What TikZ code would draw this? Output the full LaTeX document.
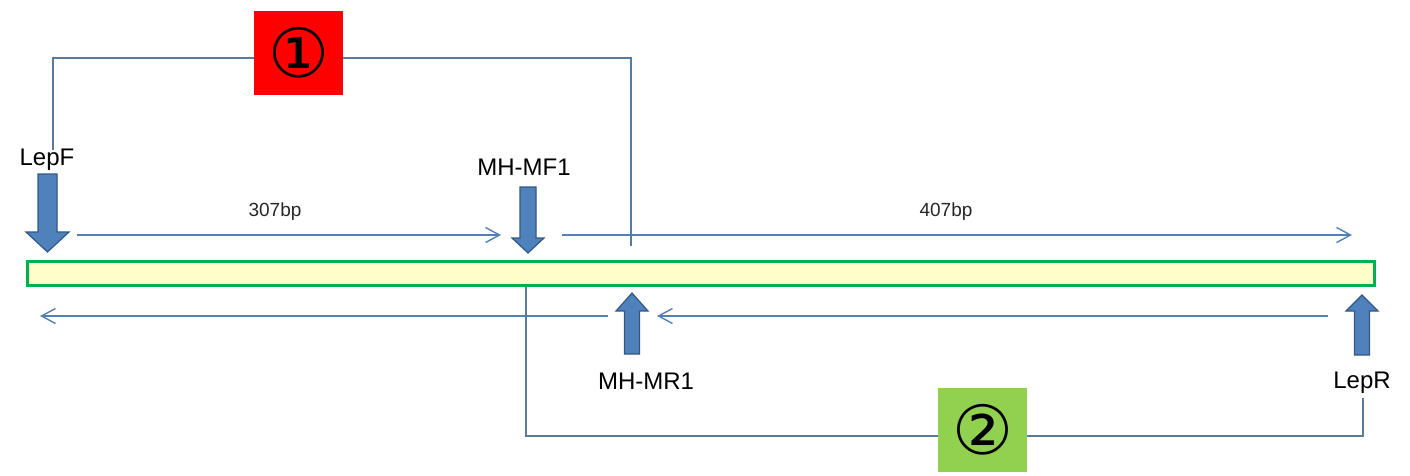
\documentclass[tikz,border=0pt]{standalone}
\usepackage{fontspec}
\setmainfont{Liberation Sans}
\newfontfamily\circfont{DejaVu Sans}
\usetikzlibrary{arrows.meta,positioning}
\definecolor{barline}{RGB}{0,176,80}
\definecolor{barfill}{RGB}{255,255,204}
\definecolor{primerfill}{RGB}{79,129,189}
\definecolor{primerdraw}{RGB}{52,88,130}
\definecolor{ampline}{RGB}{84,128,180}
\definecolor{brkline}{RGB}{90,122,155}
\definecolor{boxone}{RGB}{255,0,0}
\definecolor{boxtwo}{RGB}{146,208,80}
\tikzset{%
   lbl/.style={anchor=base, inner sep=0pt, font=\fontsize{24}{28}\selectfont},
   bp/.style={anchor=base, inner sep=0pt, font=\fontsize{19}{22}\selectfont, text=black!85},
   amp/.style={draw=ampline, line width=1.4pt, -{Straight Barb[length=14pt,width=15pt,line width=1.4pt]}},
   brk/.style={draw=brkline, line width=1.6pt},
   numbox/.style={minimum width=89pt, minimum height=84pt, inner sep=0pt, font=\circfont\fontsize{68}{68}\selectfont},
   primer/.style={fill=primerfill, draw=primerdraw, line width=1.2pt, line join=miter},
}
% down / up block arrows: centre x, tail y, tip y, half shaft, half head, head length
\newcommand\primerdown[6]{%
  \draw[primer] (#1-#4,#2) -- (#1+#4,#2) -- (#1+#4,#3-#6) -- (#1+#5,#3-#6)
    -- (#1,#3) -- (#1-#5,#3-#6) -- (#1-#4,#3-#6) -- cycle;}
\newcommand\primerup[6]{%
  \draw[primer] (#1-#4,#2) -- (#1+#4,#2) -- (#1+#4,#3+#6) -- (#1+#5,#3+#6)
    -- (#1,#3) -- (#1-#5,#3+#6) -- (#1-#4,#3+#6) -- cycle;}

\begin{document}
\begin{tikzpicture}[x=1pt, y=-1pt]
   \useasboundingbox (0,0) rectangle (1410,475);

   % template
   \node[draw=barline, fill=barfill, line width=3pt, inner sep=0pt,
         minimum width=1347pt, minimum height=24pt] (bar) at (700.5,273) {};

   % primers
   \primerdown{47.5}{174}{252}{9.5}{21.5}{20}
   \primerdown{528}{187}{253}{8}{16}{15}
   \primerup{632}{354}{293}{7.5}{16}{18}
   \primerup{1362}{355}{295}{7.5}{16}{16}

   \node[lbl] (lepF) at (47,165) {LepF};
   \node[lbl] (mhmf) at (524,175) {MH-MF1};
   \node[lbl] (mhmr) at (646,389) {MH-MR1};
   \node[lbl] (lepR) at (1362,388) {LepR};

   % products
   \node[bp] (bpA) at (275,216) {307bp};
   \node[bp] (bpB) at (946,216) {407bp};
   \coordinate (fA1) at (77,235);   \coordinate (fA2) at (501,235);
   \coordinate (fB1) at (562,235);  \coordinate (fB2) at (1352,235);
   \coordinate (rA1) at (608,316);  \coordinate (rA2) at (40,316);
   \coordinate (rB1) at (1328,316); \coordinate (rB2) at (657,316);
   \draw[amp] (fA1) -- (fA2);
   \draw[amp] (fB1) -- (fB2);
   \draw[amp] (rA1) -- (rA2);
   \draw[amp] (rB1) -- (rB2);

   % brackets
   \node[numbox, fill=boxone] (one) at (298.5,53) {\raisebox{-4pt}{①}};
   \node[numbox, fill=boxtwo] (two) at (982.5,430) {\raisebox{-4pt}{②}};
   \coordinate (k1a) at (53,150);  \coordinate (k1b) at (631,246);
   \coordinate (k2a) at (526,287); \coordinate (k2b) at (1363,398);
   \draw[brk] (k1a) |- ([yshift=-5pt]one.west);
   \draw[brk] ([yshift=-5pt]one.east) -| (k1b);
   \draw[brk] (k2a) |- ([yshift=-6pt]two.west);
   \draw[brk] ([yshift=-6pt]two.east) -| (k2b);
\end{tikzpicture}
\end{document}
